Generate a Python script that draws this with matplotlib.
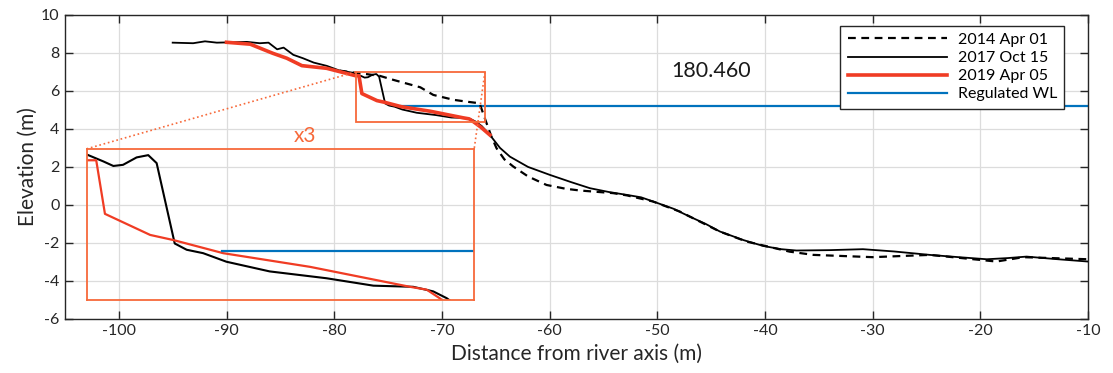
import numpy as np
import matplotlib
matplotlib.use("Agg")
import matplotlib.pyplot as plt
from matplotlib.patches import Rectangle

plt.rcParams['font.family'] = ['Lato', 'DejaVu Sans']
plt.rcParams['axes.unicode_minus'] = False

# cross-section profiles (distance from river axis, elevation)
x_2014 = [-79.5, -78.3, -77.6, -75.75, -74.5, -72.0, -70.8, -68.9, -67.5, -66.5, -65.85, -65.4,
          -64.92, -64.2, -63.37, -62.0, -60.28, -58.5, -57.2, -54.1, -52.8, -50.4, -47.9, -44.2,
          -41.7, -37.7, -35.5, -30.0, -24.7, -18.5, -16.0, -10.0]
y_2014 = [7.07, 6.97, 6.93, 6.79, 6.58, 6.19, 5.79, 5.53, 5.42, 5.35, 4.3, 3.6,
          2.98, 2.4, 2.02, 1.5, 1.05, 0.85, 0.76, 0.62, 0.5, 0.18, -0.35, -1.4,
          -1.93, -2.46, -2.63, -2.75, -2.63, -2.98, -2.75, -2.86]

x_2017 = [-95.0, -93.1, -92.0, -90.9, -88.1, -86.9, -86.1, -85.3, -84.7, -83.8, -82.9, -81.9,
          -80.7, -79.5, -78.2, -77.48, -77.17, -76.87, -76.45, -76.09, -75.83, -75.27, -74.9,
          -74.39, -73.67, -72.33, -70.57, -69.12, -67.89, -67.27, -66.85, -66.3, -65.54, -64.6,
          -63.68, -62.0, -59.97, -58.0, -56.25, -54.5, -52.85, -51.5, -50.38, -48.5, -46.97,
          -45.5, -44.18, -42.0, -40.16, -38.5, -37.07, -34.0, -30.9, -28.0, -24.7, -22.0,
          -19.4, -17.5, -15.7, -13.0, -10.0]
y_2017 = [8.54, 8.51, 8.61, 8.54, 8.58, 8.51, 8.54, 8.19, 8.28, 7.9, 7.72, 7.49,
          7.32, 7.07, 6.95, 6.78, 6.70, 6.72, 6.85, 6.89, 6.75, 5.34, 5.23,
          5.17, 5.02, 4.85, 4.73, 4.60, 4.58, 4.50, 4.38, 4.15, 3.68, 3.0,
          2.54, 2.0, 1.58, 1.2, 0.88, 0.68, 0.53, 0.4, 0.18, -0.2, -0.62,
          -1.0, -1.4, -1.85, -2.16, -2.33, -2.4, -2.38, -2.33, -2.45, -2.63, -2.75,
          -2.86, -2.8, -2.72, -2.85, -2.98]

x_2019 = [-90.0, -87.8, -85.7, -84.4, -83.0, -80.7, -78.02, -77.7, -77.43, -76.03, -75.31,
          -73.77, -71.08, -67.99, -67.47, -67.07, -66.4, -65.54]
y_2019 = [8.56, 8.46, 7.98, 7.72, 7.33, 7.19, 6.80, 6.80, 5.86, 5.49, 5.40,
          5.17, 4.93, 4.58, 4.53, 4.38, 4.1, 3.68]

x_wl = [-73.8, -10.0]
y_wl = [5.2, 5.2]

# zoom window and where the enlarged copy goes
zoom_x = (-78.0, -66.0)
zoom_y = (4.35, 7.0)
big_x = (-103.0, -67.0)
big_y = (-5.0, 2.95)

red = '#F03C24'
orange = '#F7693A'
blue = '#0072BD'

fig = plt.figure(figsize=(11.13, 3.73), dpi=100)
ax = fig.add_axes([0.0584, 0.145, 0.9191, 0.815])

ax.plot(x_2014, y_2014, color='k', ls=(0, (3.5, 2.5)), lw=1.6, label='2014 Apr 01', zorder=3)
ax.plot(x_2017, y_2017, color='k', lw=1.3, label='2017 Oct 15', zorder=4)
ax.plot(x_2019, y_2019, color=red, lw=2.6, label='2019 Apr 05', zorder=5)
ax.plot(x_wl, y_wl, color=blue, lw=1.6, label='Regulated WL', zorder=2)

ax.set_xlim(-105, -10)
ax.set_ylim(-6, 10)
ax.set_xticks(np.arange(-100, -9, 10))
ax.set_yticks(np.arange(-6, 11, 2))
ax.grid(True, color='#dcdcdc', lw=0.9)
ax.set_axisbelow(True)
ax.tick_params(direction='in', top=True, right=True, length=6, width=1.0,
               labelsize=11.5, colors='#262626', pad=4)
for s in ax.spines.values():
    s.set_color('#262626')
    s.set_linewidth(1.0)

ax.set_xlabel('Distance from river axis (m)', fontsize=15, color='#262626', labelpad=4)
ax.set_ylabel('Elevation (m)', fontsize=15, color='#262626', labelpad=2)

ax.text(-45, 7.05, '180.460', fontsize=15.5, ha='center', va='center', color='#1a1a1a')

# small box around the bank edge
ax.add_patch(Rectangle((zoom_x[0], zoom_y[0]), zoom_x[1] - zoom_x[0], zoom_y[1] - zoom_y[0],
                       fill=False, ec=orange, lw=1.3, zorder=6))
# dotted connectors to the enlarged view
ax.plot([zoom_x[0], big_x[0]], [zoom_y[1], big_y[1]], color=orange, ls=':', lw=1.2, zorder=6)
ax.plot([zoom_x[1], big_x[1]], [zoom_y[1], big_y[1]], color=orange, ls=':', lw=1.2, zorder=6)

# enlarged view (x3)
ins = ax.inset_axes([big_x[0], big_y[0], big_x[1] - big_x[0], big_y[1] - big_y[0]],
                    transform=ax.transData)
ins.patch.set_alpha(0)
ins.plot(x_2017, y_2017, color='k', lw=1.5)
ins.plot(x_2019, y_2019, color=red, lw=1.6)
ins.plot(x_wl, y_wl, color=blue, lw=1.6)
ins.set_xlim(*zoom_x)
ins.set_ylim(*zoom_y)
ins.set_xticks([])
ins.set_yticks([])
for s in ins.spines.values():
    s.set_color(orange)
    s.set_linewidth(1.3)
ax.text(-82.7, 3.65, 'x3', color=orange, fontsize=15, ha='center', va='center')

leg = ax.legend(loc='upper right', bbox_to_anchor=(0.977, 0.965), fontsize=11.5,
                handlelength=6.2, frameon=True, fancybox=False, borderpad=0.45,
                labelspacing=0.25, handletextpad=0.7, borderaxespad=0.0)
leg.get_frame().set_edgecolor('#262626')
leg.get_frame().set_linewidth(1.0)
leg.get_frame().set_alpha(1)

fig.savefig('out.png', dpi=100)
